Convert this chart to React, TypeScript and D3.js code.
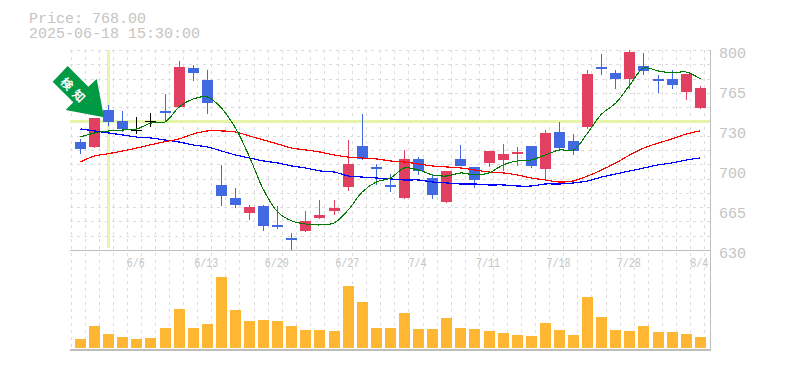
import React from "react";
import * as d3 from "d3";

const title = "Price: 768.00";
const timestamp = "2025-06-18 15:30:00";
const badge = "検知";
const highs = [724.4,742.2,753.3,748.2,743.1,746.5,762.6,790.7,787.3,783,702.3,682.7,668.3,668.3,667.4,644.5,663.2,672.5,672.5,723.5,745.6,703.1,694.6,715,709,694.6,697.2,719.3,700.6,714.2,720.1,717.6,718.4,732,738.8,728.6,783,796.6,783,800,797.4,778.8,783,779.6,769.4];
const lows = [711.6,716.7,735.4,730.3,728.6,734.6,738.8,750.7,773.7,745.6,667.4,665.7,655.5,646.2,647.9,630,645.3,656.4,659.8,680.2,706.5,685.3,679.3,673.4,693.8,673.4,670,701.4,682.7,700.6,697.2,701.4,699.7,690.4,714.2,710.8,732.9,778.8,766.9,766.9,778.8,763.5,766.9,757.5,749.9];
const opens = [721.8,717.6,749,739.7,732,739.7,748.2,751.6,784.7,774.5,685.3,674.2,661.5,667.4,651.3,640.2,646.2,657.2,663.2,683.6,718.4,700.6,685.3,674.2,707.4,691.2,670.8,707.4,700.6,704,706.5,711.6,718.4,698.9,730.3,722.7,734.6,785.5,780.5,775.4,786.4,775.4,775.4,764.3,750.7];
const closes = [715.9,742.2,738.8,732.9,732,739.7,746.5,785.5,780.5,754.9,675.9,668.3,666.6,650.4,649.6,638.5,654.7,659.8,665.7,703.1,707.4,698.9,683.6,707.4,697.2,676.8,697.2,701.4,689.5,714.2,711.6,713.3,701.4,729.5,716.7,714.2,779.6,783.9,775.4,798.3,782.2,773.7,770.3,779.6,768];
const maShort = [726,729.5,731.2,732,732.9,737.9,738.8,751.6,758.4,760.1,750.7,733.7,709,681,662.3,654.7,652.1,651.3,653,664,679.3,687.8,691.2,699.7,698,693.8,692.9,695.5,693.8,695.5,702.3,705.7,706.5,710.8,715,715,729.5,745.6,754.9,770.3,784.7,782.2,780.5,781.3,775.4];
const maMid = [704.8,709.9,711.9,714.2,716.7,719.5,722.1,724.4,728.6,731.2,731.2,730.3,726.9,723.5,720.1,716.7,715,713.3,710.8,709,708.2,707.4,705.7,704.8,703.1,701.4,700.6,699.7,698,696.3,695.5,693.8,691.2,689.5,687.8,688.7,692.9,698,704,710.8,716.7,720.9,724.4,728.6,731.2];
const maLong = [732.9,731.2,729.5,727.8,726,725.2,723.5,721.8,719.3,717.6,714.2,710.8,708.2,705.7,704,701.4,699.7,697.2,696.3,692.9,692,691.2,690.4,689.5,689.5,687.8,687,686.1,686.1,685.3,685.3,684.4,684.4,686.1,686.1,687,688.7,692,694.6,697.2,699.7,702.3,704,706.5,708.2];
const volumes = [9,22,14,11,9,10,20,39,20,24,71,38,27,28,27,22,18,18,17,62,46,20,20,35,19,19,30,20,19,17,15,13,12,25,18,13,51,31,18,17,22,16,16,14,11];
const dateIndexes = [4,9,14,19,24,29,34,39,44];
const dateLabels = ["6/6","6/13","6/20","6/27","7/4","7/11","7/18","7/28","8/4"];
const priceTicks = [800,766,732,698,664,630];
const priceLabels = ["800","765","730","700","665","630"];
const signalIndex = 2;
const signalPrice = 739.9;

const BLUE = "#4169e1", RED = "#e24060", GRID = "#dcdcdc", AXIS = "#bdbdbd", TEXT = "#c4c4c4", HILITE = "#e6f5a8";
const MONO = "'Liberation Mono', monospace";

export default function App() {
  const x = d3.scaleLinear().domain([0, 44]).range([80.5, 700.3]);
  const y = d3.scaleLinear().domain([630, 800]).range([250, 50]);
  const v = d3.scaleLinear().domain([0, 100]).range([348, 248]);
  const line = d3.line<number>().x((_, i) => x(i)).y(d => y(d)).curve(d3.curveCatmullRom);
  const vGrid = d3.range(46).map(k => Math.round(70.5 + k * 14.08) + 0.5);
  const hGrid = d3.range(14).map(k => Math.round(50 + k * 14.285) + 0.5);
  const bw = 11;
  return (
    <svg width={785} height={370} style={{ position: "absolute", left: 0, top: 0, background: "#fff" }}>
      <g fontFamily={MONO} fontSize={15} fill={TEXT}>
        <text x={29} y={23}>{title}</text>
        <text x={29} y={38}>{timestamp}</text>
      </g>
      <g stroke={GRID} strokeDasharray="3 4" shapeRendering="crispEdges">
        {vGrid.map(g => <line key={g} x1={g} x2={g} y1={50} y2={350} />)}
        {hGrid.map(g => <line key={g} x1={70} x2={710} y1={g} y2={g} />)}
      </g>
      <g fill={HILITE} shapeRendering="crispEdges">
        <rect x={Math.floor(x(signalIndex)) - 1} y={50} width={3} height={198} />
        <rect x={70} y={Math.round(y(signalPrice)) - 1} width={640} height={3} />
      </g>
      <g stroke={AXIS} shapeRendering="crispEdges">
        <line x1={70} x2={710} y1={250.5} y2={250.5} />
        <line x1={70} x2={711} y1={350} y2={350} strokeWidth={2} />
        <line x1={710.5} x2={710.5} y1={50} y2={350} strokeWidth={1.5} />
      </g>
      <g shapeRendering="crispEdges">
        {opens.map((o, i) => {
          const c = closes[i];
          const col = c > o ? RED : c < o ? BLUE : "#000";
          const cx = Math.floor(x(i));
          const top = Math.round(y(Math.max(o, c)));
          const h = Math.max(Math.round(y(Math.min(o, c))) - top, c === o ? 1 : 2);
          return (
            <g key={i} fill={col}>
              <rect x={cx} y={y(highs[i])} width={1} height={y(lows[i]) - y(highs[i])} />
              <rect x={cx - 5} y={top} width={bw} height={h} />
            </g>
          );
        })}
      </g>
      <g fill="none" shapeRendering="crispEdges">
        <path d={line(maLong)!} stroke="#0000ff" strokeWidth={1.2} />
        <path d={line(maMid)!} stroke="#ff0000" strokeWidth={1.2} />
        <path d={line(maShort)!} stroke="#007a00" strokeWidth={1.1} />
      </g>
      <g fill="#ffb733" shapeRendering="crispEdges">
        {volumes.map((d, i) => (
          <rect key={i} x={Math.floor(x(i)) - 5} y={v(d)} width={bw} height={v(0) - v(d)} />
        ))}
      </g>
      <polygon points="52.7,81.7 67.7,66 88.3,86.7 96.7,79 104,117.3 65.7,110 73.3,102.3" fill="#009944" />
      <text transform="translate(75.3,90.8) rotate(45)" textAnchor="middle" dominantBaseline="central"
        fontFamily="'Noto Sans CJK JP'" fontWeight={700} fontSize={12} fill="#fff" letterSpacing={5}>{badge}</text>
      <g fontFamily={MONO} fontSize={12} fill={TEXT} textAnchor="middle">
        {dateIndexes.map((d, i) => (
          <text key={d} x={x(d) - 1} y={267} textLength={dateLabels[i].length * 6} lengthAdjust="spacingAndGlyphs">{dateLabels[i]}</text>
        ))}
      </g>
      <g fontFamily={MONO} fontSize={15} fill={TEXT}>
        {priceTicks.map((t, i) => <text key={t} x={719} y={y(t) + 7.5}>{priceLabels[i]}</text>)}
      </g>
    </svg>
  );
}
